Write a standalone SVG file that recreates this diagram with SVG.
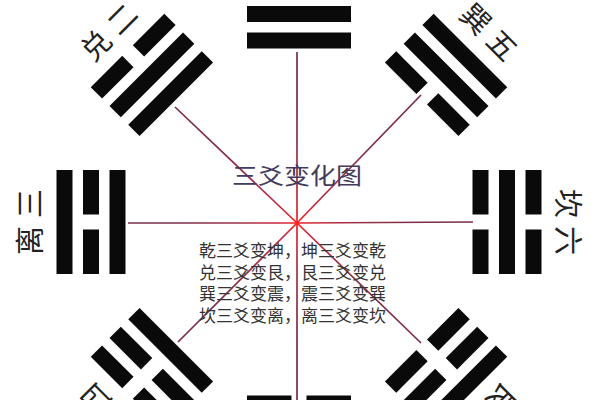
<svg xmlns="http://www.w3.org/2000/svg" xmlns:xlink="http://www.w3.org/1999/xlink" width="600" height="400" viewBox="0 0 600 400">
  <style>
    .bar { fill: #0a0a0a; }
    .lbl { font-family: "Liberation Sans", "Noto Sans CJK SC", sans-serif; font-size: 29px; fill: #222; text-anchor: middle; dominant-baseline: central; }
    .body { font-family: "Liberation Sans", "Noto Sans CJK SC", sans-serif; font-size: 17px; fill: #333; }
    .title { font-family: "Liberation Sans", "Noto Sans CJK SC", sans-serif; font-size: 23px; fill: #443a5c; }
    .conn { stroke: url(#lineGrad); stroke-width: 1.7; fill: none; }
  </style>
  <defs>
    <radialGradient id="lineGrad" gradientUnits="userSpaceOnUse" cx="297" cy="223" r="120">
      <stop offset="0" stop-color="#ff1a1a"/>
      <stop offset="0.12" stop-color="#d02838"/>
      <stop offset="0.5" stop-color="#9a3048"/>
      <stop offset="1" stop-color="#7c2c44"/>
    </radialGradient>
    <rect id="yang" class="bar" x="-52" y="-8" width="104" height="16"/>
    <g id="yin" class="bar">
      <rect x="-52" y="-8" width="44.5" height="16"/>
      <rect x="7.5" y="-8" width="44.5" height="16"/>
    </g>
  </defs>
  <rect width="600" height="400" fill="#ffffff"/>

  <g id="connectors">
    <line class="conn" x1="297" y1="223" x2="297" y2="52"/>
    <line class="conn" x1="297" y1="223" x2="297" y2="400"/>
    <line class="conn" x1="297" y1="223" x2="128" y2="223"/>
    <line class="conn" x1="297" y1="223" x2="473" y2="222"/>
    <line class="conn" x1="297" y1="223" x2="175" y2="107"/>
    <line class="conn" x1="297" y1="223" x2="421" y2="95"/>
    <line class="conn" x1="297" y1="223" x2="178" y2="342"/>
    <line class="conn" x1="297" y1="223" x2="421" y2="343"/>
  </g>

  <g id="qian" transform="translate(299,222) rotate(0)">
    <use xlink:href="#yang" y="-181.5"/>
    <use xlink:href="#yang" y="-208"/>
    <use xlink:href="#yang" y="-234.5"/>
  </g>

  <g id="xun" transform="translate(299,222) rotate(45)">
    <use xlink:href="#yin" y="-181.5"/>
    <use xlink:href="#yang" y="-208"/>
    <use xlink:href="#yang" y="-234.5"/>
    <text class="lbl" x="-18.5 18.5" y="-268">巽五</text>
  </g>

  <g id="kan" transform="translate(299,222) rotate(90)">
    <use xlink:href="#yin" y="-181.5"/>
    <use xlink:href="#yang" y="-208"/>
    <use xlink:href="#yin" y="-234.5"/>
    <text class="lbl" x="-18.5 18.5" y="-268">坎六</text>
  </g>

  <g id="gen" transform="translate(299,222) rotate(135)">
    <use xlink:href="#yin" y="-181.5"/>
    <use xlink:href="#yin" y="-208"/>
    <use xlink:href="#yang" y="-234.5"/>
    <text class="lbl" x="-18.5 18.5" y="-268">艮七</text>
  </g>

  <g id="kun" transform="translate(299,222) rotate(180)">
    <use xlink:href="#yin" y="-181.5"/>
    <use xlink:href="#yin" y="-208"/>
    <use xlink:href="#yin" y="-234.5"/>
  </g>

  <g id="zhen" transform="translate(299,222) rotate(225)">
    <use xlink:href="#yang" y="-181.5"/>
    <use xlink:href="#yin" y="-208"/>
    <use xlink:href="#yin" y="-234.5"/>
    <text class="lbl" x="-18.5 18.5" y="-268">震四</text>
  </g>

  <g id="li" transform="translate(299,222) rotate(270)">
    <use xlink:href="#yang" y="-181.5"/>
    <use xlink:href="#yin" y="-208"/>
    <use xlink:href="#yang" y="-234.5"/>
    <text class="lbl" x="-18.5 18.5" y="-268">离三</text>
  </g>

  <g id="dui" transform="translate(299,222) rotate(315)">
    <use xlink:href="#yang" y="-181.5"/>
    <use xlink:href="#yang" y="-208"/>
    <use xlink:href="#yin" y="-234.5"/>
    <text class="lbl" x="-18.5 18.5" y="-268">兑二</text>
  </g>

  <g id="title">
    <text class="title" x="232" y="184" textLength="130" lengthAdjust="spacingAndGlyphs">三爻变化图</text>
  </g>

  <g id="notes">
    <text class="body" x="199" y="257">乾三爻变坤，坤三爻变乾</text>
    <text class="body" x="199" y="278.5">兑三爻变艮，艮三爻变兑</text>
    <text class="body" x="199" y="300">巽三爻变震，震三爻变巽</text>
    <text class="body" x="199" y="321.5">坎三爻变离，离三爻变坎</text>
  </g>
</svg>
